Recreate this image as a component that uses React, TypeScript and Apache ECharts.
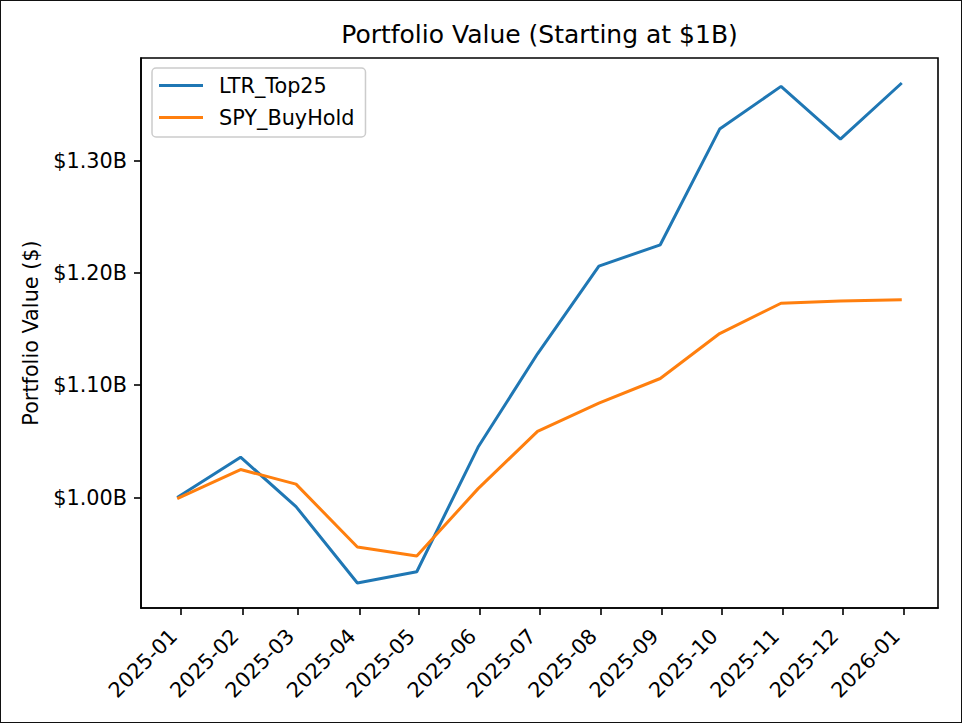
import React, { useEffect, useRef } from "react";
import * as echarts from "echarts";

const dates = [
  "2024-12-30", "2025-01-31", "2025-02-28", "2025-03-31", "2025-04-30",
  "2025-05-31", "2025-06-30", "2025-07-31", "2025-08-31", "2025-09-30",
  "2025-10-31", "2025-11-30", "2025-12-31",
];
const ltrTop25 = [1.0, 1.036, 0.992, 0.924, 0.934, 1.045, 1.128, 1.206, 1.225, 1.328, 1.366, 1.319, 1.369];
const spyBuyHold = [0.999, 1.025, 1.012, 0.956, 0.948, 1.008, 1.059, 1.084, 1.106, 1.146, 1.173, 1.175, 1.176];
const xTickDates = [
  "2025-01-01", "2025-02-01", "2025-03-01", "2025-04-01", "2025-05-01", "2025-06-01",
  "2025-07-01", "2025-08-01", "2025-09-01", "2025-10-01", "2025-11-01", "2025-12-01", "2026-01-01",
];
const yTicks = [1.0, 1.1, 1.2, 1.3];
const seriesNames = ["LTR_Top25", "SPY_BuyHold"];

const toTs = (s: string) => {
  const [y, m, d] = s.split("-").map(Number);
  return Date.UTC(y, m - 1, d);
};
const pad2 = (n: number) => (n < 10 ? "0" + n : "" + n);
const fmtMonth = (v: number) => {
  const d = new Date(v);
  return d.getUTCFullYear() + "-" + pad2(d.getUTCMonth() + 1);
};

const FONT = "DejaVu Sans";

export default function App() {
  const ref = useRef<HTMLDivElement>(null);
  useEffect(() => {
    if (!ref.current) return;
    const chart = echarts.init(ref.current, undefined, { renderer: "svg" });
    const ts = dates.map(toTs);
    const t0 = ts[0];
    const t1 = ts[ts.length - 1];
    const xm = (t1 - t0) * 0.05;
    const all = ltrTop25.concat(spyBuyHold);
    const lo = Math.min(...all);
    const hi = Math.max(...all);
    const ym = (hi - lo) * 0.05;
    const xTicks = xTickDates.map(toTs);

    chart.setOption({
      animation: false,
      backgroundColor: "#ffffff",
      textStyle: { fontFamily: FONT },
      title: {
        text: "Portfolio Value (Starting at $1B)",
        left: 539.5,
        textAlign: "center",
        top: 22,
        padding: 0,
        textStyle: { fontFamily: FONT, fontSize: 25, fontWeight: "normal", color: "#000" },
      },
      graphic: [
        {
          type: "rect",
          shape: { x: 0, y: 0, width: 962, height: 723 },
          style: { fill: "none", stroke: "#111", lineWidth: 2 },
          silent: true,
        },
      ],
      legend: {
        orient: "vertical",
        left: 152,
        top: 68,
        icon: "rect",
        itemWidth: 44,
        itemHeight: 3,
        itemGap: 11,
        padding: [7, 11, 9, 7],
        backgroundColor: "rgba(255,255,255,0.8)",
        borderColor: "#cccccc",
        borderWidth: 1.5,
        borderRadius: 4,
        textStyle: { fontFamily: FONT, fontSize: 20.8, color: "#000", padding: [0, 0, 0, 11] },
        data: seriesNames,
      },
      grid: {
        left: 141,
        right: 24,
        top: 58,
        bottom: 115,
        show: true,
        borderColor: "#000",
        borderWidth: 1.6,
        backgroundColor: "transparent",
      },
      xAxis: {
        type: "value",
        min: t0 - xm,
        max: t1 + xm,
        splitLine: { show: false },
        axisLine: { show: true, lineStyle: { color: "#000", width: 1.6 } },
        axisTick: {
          show: true,
          length: 7,
          lineStyle: { color: "#000", width: 1.6 },
          customValues: xTicks,
        },
        axisLabel: {
          rotate: 45,
          margin: 32,
          verticalAlign: "bottom",
          fontFamily: FONT,
          fontSize: 20.8,
          color: "#000",
          customValues: xTicks,
          formatter: (v: number) => fmtMonth(v),
          hideOverlap: false,
        },
      },
      yAxis: {
        type: "value",
        min: lo - ym,
        max: hi + ym,
        name: "Portfolio Value ($)",
        nameLocation: "middle",
        nameGap: 100,
        nameTextStyle: { fontFamily: FONT, fontSize: 20.8, color: "#000" },
        splitLine: { show: false },
        axisLine: { show: true, lineStyle: { color: "#000", width: 1.6 } },
        axisTick: {
          show: true,
          length: 7,
          lineStyle: { color: "#000", width: 1.6 },
          customValues: yTicks,
        },
        axisLabel: {
          margin: 14,
          fontFamily: FONT,
          fontSize: 20.8,
          color: "#000",
          customValues: yTicks,
          formatter: (v: number) => "$" + v.toFixed(2) + "B",
        },
      },
      series: [
        {
          name: seriesNames[0],
          type: "line",
          data: ts.map((t, i) => [t, ltrTop25[i]]),
          symbol: "none",
          lineStyle: { color: "#1f77b4", width: 3 },
          itemStyle: { color: "#1f77b4" },
          z: 2,
        },
        {
          name: seriesNames[1],
          type: "line",
          data: ts.map((t, i) => [t, spyBuyHold[i]]),
          symbol: "none",
          lineStyle: { color: "#ff7f0e", width: 3 },
          itemStyle: { color: "#ff7f0e" },
          z: 3,
        },
      ],
    });
    return () => chart.dispose();
  }, []);
  return (
    <div
      ref={ref}
      style={{ position: "fixed", left: 0, top: 0, width: 962, height: 723 }}
    />
  );
}
